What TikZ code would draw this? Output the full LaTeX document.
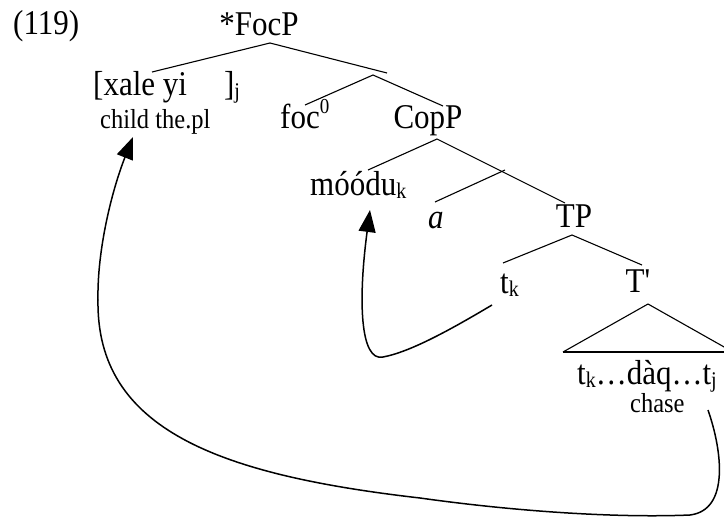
\documentclass[tikz,border=0pt]{standalone}
\usepackage{fontspec}
\usepackage{graphicx}
\setmainfont{Liberation Serif}
\usetikzlibrary{arrows.meta}
\newcommand{\lsub}[1]{\raisebox{-3pt}{\fontsize{20}{20}\selectfont #1}}
\newcommand{\lsup}[1]{\raisebox{13pt}{\fontsize{19}{19}\selectfont #1}}
\newcommand{\tall}[1]{\scalebox{1}[1.12]{#1}}
\begin{document}
\begin{tikzpicture}[x=1pt,y=-1pt,
  lbl/.style={inner sep=0pt, anchor=base, font=\fontsize{31}{36}\selectfont},
  gloss/.style={inner sep=0pt, anchor=base west, font=\fontsize{24.5}{27}\selectfont},
  branch/.style={line width=1.1pt},
  move/.style={line width=1.5pt, -{Triangle[length=22pt,width=17pt]}}
]
\useasboundingbox (0,0) rectangle (724,517);
% labels
\node[lbl, anchor=base west] (ex) at (13,34) {\tall{(119)}};
\node[lbl] (focp) at (259,35) {\tall{*FocP}};
\node[lbl, anchor=base west] (dp) at (93,95) {\tall{[xale yi\hspace{37pt}]\lsub{j}}};
\node[gloss] (gloss1) at (100,128) {\tall{child the.pl}};
\node[lbl, anchor=base west] (foc) at (280,128) {\tall{foc\lsup{0}}};
\node[lbl] (copp) at (428,128) {\tall{CopP}};
\node[lbl, anchor=base west] (moodu) at (310,195) {\tall{móódu\lsub{k}}};
\node[lbl, anchor=base west] (a) at (428,228) {\tall{\itshape a}};
\node[lbl] (tp) at (574,227) {\tall{TP}};
\node[lbl, anchor=base west] (tk) at (500,293) {\tall{t\lsub{k}}};
\node[lbl] (tbar) at (638,292) {\tall{T\textquotesingle}};
\node[lbl, anchor=base west] (str) at (577,384) {\tall{t\lsub{k}…dàq…t\lsub{j}}};
\node[gloss] (chase) at (630,412) {\tall{chase}};
% branch points
\coordinate (f0) at (270,43);
\coordinate (f1) at (152,72);
\coordinate (f2) at (387,73);
\coordinate (b0) at (373,75);
\coordinate (b1) at (305,105);
\coordinate (b2) at (443,106);
\coordinate (c0) at (437,139);
\coordinate (c1) at (368,170);
\coordinate (c2) at (565,203);
\coordinate (d0) at (505,170);
\coordinate (d1) at (435,202);
\coordinate (t0) at (572,235);
\coordinate (t1) at (503,263);
\coordinate (t2) at (642,265);
\coordinate (ta) at (648,304);
\coordinate (tl) at (563,352);
\coordinate (tr) at (733,352);
% tree
\draw[branch] (f1) -- (f0) -- (f2);
\draw[branch] (b1) -- (b0) -- (b2);
\draw[branch] (c1) -- (c0) -- (c2);
\draw[branch] (d1) -- (d0);
\draw[branch] (t1) -- (t0) -- (t2);
\draw[branch] (tl) -- (ta) -- (tr);
\draw[line width=2pt] (tl) -- (tr);
% movement arrows
\coordinate (k0) at (492,305);
\coordinate (ktip) at (370,210);
\coordinate (j0) at (708,410);
\coordinate (jtip) at (133,137);
\draw[move] (k0) .. controls (450,330) and (410,352) .. (383,357)
  .. controls (360,362) and (358,300) .. (ktip);
\draw[move] (j0) .. controls (722,450) and (730,510) .. (690,515)
  .. controls (620,518) and (520,512) .. (420,498)
  .. controls (220,475) and (96,430) .. (98,300)
  .. controls (97,250) and (112,190) .. (jtip);
\end{tikzpicture}
\end{document}
